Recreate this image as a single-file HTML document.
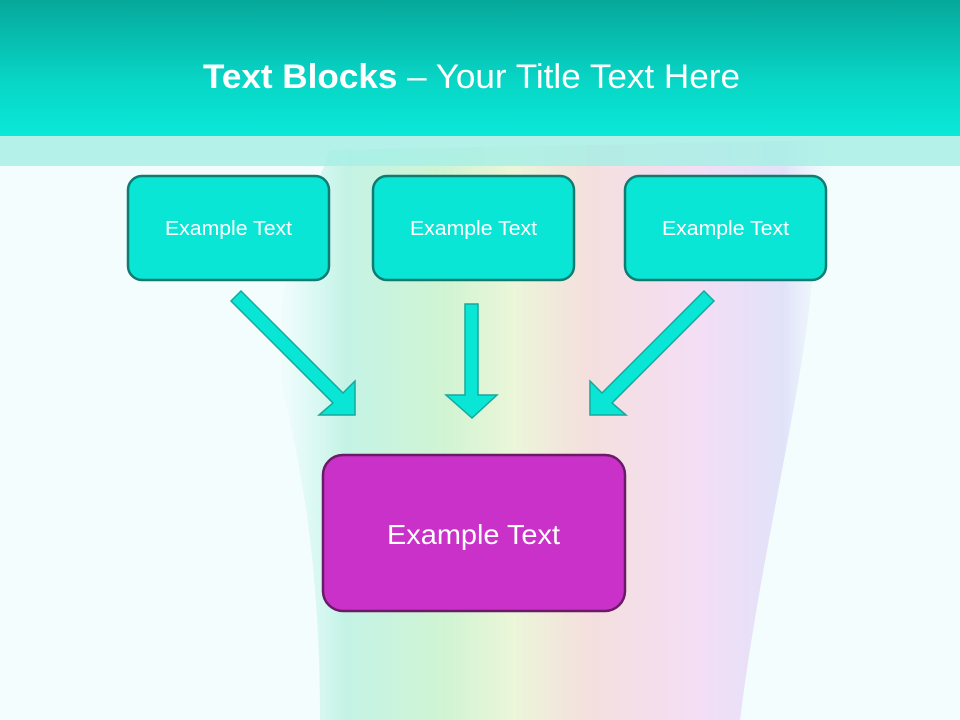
<!DOCTYPE html>
<html><head><meta charset="utf-8"><style>
html,body{margin:0;padding:0;width:960px;height:720px;overflow:hidden;background:#f3fdfd}
svg{display:block}
text{font-family:"Liberation Sans",sans-serif;fill:#fff}
</style></head><body>
<svg width="960" height="720" viewBox="0 0 960 720" xmlns="http://www.w3.org/2000/svg">
<defs>
<linearGradient id="hd" x1="0" y1="0" x2="0" y2="1">
<stop offset="0" stop-color="#05a89a"/><stop offset="0.6" stop-color="#08d6c6"/><stop offset="1" stop-color="#0ae8d8"/></linearGradient>
<linearGradient id="rb" x1="0" y1="0" x2="1" y2="0">
<stop offset="0" stop-color="#bff5ee" stop-opacity="0"/>
<stop offset="0.12" stop-color="#b8f0e0"/>
<stop offset="0.3" stop-color="#c8f2c8"/>
<stop offset="0.42" stop-color="#eaf4d0"/>
<stop offset="0.55" stop-color="#f5d8d6"/>
<stop offset="0.75" stop-color="#f3d6f3"/>
<stop offset="0.9" stop-color="#dcdcf8"/>
<stop offset="1" stop-color="#eef6fb" stop-opacity="0"/>
</linearGradient>
</defs>
<rect width="960" height="720" fill="#f3fdfd"/>
<path d="M330,150 C300,230 270,300 280,380 C300,460 320,560 320,720 L740,720 C760,560 800,400 810,300 C820,220 830,170 840,140 Z" fill="url(#rb)" opacity="0.8"/>
<rect x="0" y="0" width="960" height="136" fill="url(#hd)"/>
<rect x="0" y="136" width="960" height="30" fill="#a8efe5" opacity="0.85"/>
<text x="203" y="88" font-size="34" textLength="537" lengthAdjust="spacingAndGlyphs"><tspan font-weight="bold">Text Blocks</tspan> – Your Title Text Here</text>
<g fill="#0ae6d5" stroke="#117b72" stroke-width="2.5">
<rect x="128" y="176" width="201" height="104" rx="14"/>
<rect x="373" y="176" width="201" height="104" rx="14"/>
<rect x="625" y="176" width="201" height="104" rx="14"/>
</g>
<g font-size="20">
<text x="165" y="235" textLength="127" lengthAdjust="spacingAndGlyphs">Example Text</text>
<text x="410" y="235" textLength="127" lengthAdjust="spacingAndGlyphs">Example Text</text>
<text x="662" y="235" textLength="127" lengthAdjust="spacingAndGlyphs">Example Text</text>
</g>
<g fill="#0ae6d5" stroke="#15a89c" stroke-width="1.5">
<polygon points="241,291 343,393 355,381 355,415 319,415 333,403 231,301"/>
<polygon points="704,291 602,393 590,381 590,415 626,415 612,403 714,301"/>
<polygon points="465,304 478,304 478,395 497,395 472,418 446,395 465,395"/>
</g>
<rect x="323" y="455" width="302" height="156" rx="20" fill="#c931c8" stroke="#6a1a66" stroke-width="2.5"/>
<text x="387" y="544" font-size="28" textLength="173" lengthAdjust="spacingAndGlyphs">Example Text</text>
</svg>
</body></html>
